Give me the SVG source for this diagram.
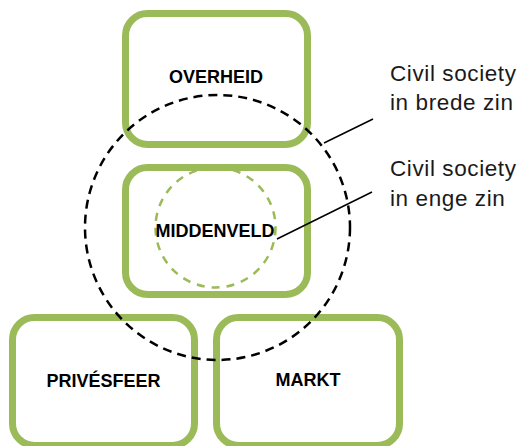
<svg xmlns="http://www.w3.org/2000/svg" width="521" height="446" viewBox="0 0 521 446">
  <style>
    .box { fill: #ffffff; stroke: #9BBB59; stroke-width: 7; }
    .label { font-family: "Liberation Sans", Arial, sans-serif; font-weight: bold; font-size: 18px; fill: #000000; text-anchor: middle; }
    .note { font-family: "Liberation Sans", Arial, sans-serif; font-size: 22.5px; letter-spacing: 0.6px; fill: #1a1a1a; }
    .wide { fill: none; stroke: #000000; stroke-width: 2.5; stroke-dasharray: 9 6; }
    .narrow { fill: none; stroke: #9BBB59; stroke-width: 2.5; stroke-dasharray: 8 7; }
    .leader { stroke: #000000; stroke-width: 1.5; fill: none; }
  </style>
  <rect width="521" height="446" fill="#ffffff"/>

  <g id="overheid">
    <rect class="box" x="125.5" y="13.5" width="182" height="131" rx="22"/>
    <text class="label" x="216" y="83">OVERHEID</text>
  </g>

  <g id="middenveld">
    <rect class="box" x="125.5" y="167.5" width="182" height="127" rx="22"/>
    <circle class="narrow" cx="215.5" cy="227.5" r="60"/>
    <text class="label" x="215" y="237">MIDDENVELD</text>
  </g>

  <g id="privesfeer">
    <rect class="box" x="12.5" y="317.5" width="182" height="128" rx="22"/>
    <text class="label" x="103.5" y="387">PRIVÉSFEER</text>
  </g>

  <g id="markt">
    <rect class="box" x="216.5" y="317.5" width="183" height="128" rx="22"/>
    <text class="label" x="308" y="386">MARKT</text>
  </g>

  <g id="civil-society-breed">
    <circle class="wide" cx="217.5" cy="227.5" r="132.5"/>
    <text class="note" x="390" y="81">Civil society</text>
    <text class="note" x="390" y="110">in brede zin</text>
  </g>

  <g id="civil-society-eng">
    <text class="note" x="390" y="176">Civil society</text>
    <text class="note" x="390" y="206">in enge zin</text>
  </g>

  <g id="connectors">
    <line class="leader" x1="373" y1="119" x2="324" y2="143"/>
    <line class="leader" x1="372" y1="192" x2="277" y2="239"/>
  </g>
</svg>
